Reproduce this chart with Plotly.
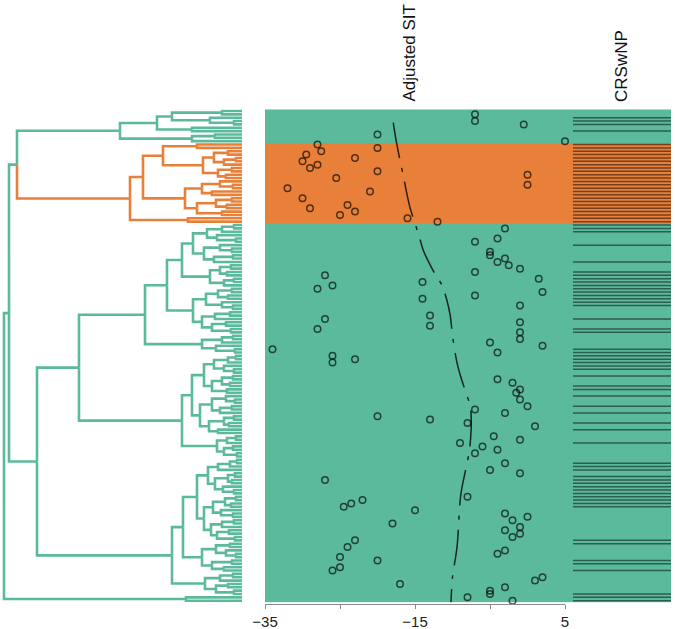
import plotly.graph_objects as go

W, H = 675, 629
GREEN = "#5BBA9C"
ORANGE = "#E8803A"

# ---------------- data ----------------
# Adjusted SIT per patient row (dendrogram order, top to bottom); None = no point
adjusted_sit = [
    None, -7, None, -7, -0.5, None, None, -20, None, 5,          # 0-9
    -28, -20, -27.5, -29.5, -23, -30, -28, -29, -20, 0,          # 10-19
    -25.5, None, 0, -32, -21, None, -30, None, -24, -29,         # 20-29
    -23, -25, -16, -12, None, -3, None, None, -4, -7,            # 30-39
    None, None, -5, -5, -3, -4, -2.5, -1, -7, -27,               # 40-49
    1.5, -14, -26, -28, 2, -7, -14, None, -1, None,              # 50-59
    None, -13, -27, -1, -13, -28, -1, None, -1, -5,              # 60-69
    2, -34, -4, -26, -23, -26, None, None, None, None,           # 70-79
    -4, -2, None, -1, -1.5, None, -1, None, 0, -7,               # 80-89
    -3, -20, -13, -8, 1, None, None, -4.5, -1, -9,               # 90-99
    -6, -4, -7, None, None, -3, None, -5, -1, None,              # 100-109
    -27, None, None, None, None, -8, -22, -23.5, -24.5, -15,     # 110-119
    -3, 0, -2, -18, -1, -3, -1, -2, -23, None,                   # 120-129
    -24, -3, -4, -25, -20, None, -25, -26, None, 2,              # 130-139
    1, -17, -3, -5, -5, -8, -2,                                  # 140-146
]

# CRSwNP status per row (1 = yes)
crswnp = [
    0, 0, 1, 1, 1, 0, 1, 0, 0, 0,
    1, 1, 1, 1, 1, 1, 1, 1, 1, 1,
    1, 1, 1, 1, 1, 1, 1, 1, 1, 1,
    1, 1, 1, 1, 1, 1, 1, 0, 0, 0,
    1, 0, 0, 0, 0, 1, 0, 0, 1, 1,
    1, 1, 1, 1, 1, 1, 1, 1, 1, 0,
    0, 0, 1, 0, 0, 1, 1, 0, 0, 0,
    0, 1, 1, 1, 1, 1, 1, 1, 0, 1,
    0, 0, 1, 1, 0, 1, 0, 0, 1, 0,
    1, 0, 0, 1, 0, 1, 0, 0, 0, 1,
    0, 0, 0, 0, 0, 1, 1, 1, 0, 1,
    1, 1, 1, 1, 1, 1, 1, 1, 1, 0,
    0, 0, 0, 0, 0, 0, 0, 0, 1, 1,
    0, 0, 0, 0, 1, 1, 0, 1, 0, 0,
    0, 0, 0, 0, 1, 1, 1,
]

# smoothed trend of Adjusted SIT along the row order
smooth_row = [3.5, 9, 20, 28.5, 33.5, 38.5, 41.5, 47.5, 52, 56, 61, 67, 75, 80,
              84, 88.5, 93.5, 98, 102, 107.5, 114.5, 130, 139, 146.5]
smooth_sit = [-17.9, -17.5, -16.5, -15.7, -15.0, -14.3, -13.9, -12.6, -11.4, -10.8,
              -10.3, -10.0, -9.4, -8.8, -8.2, -7.6, -7.5, -7.6, -7.8, -8.3,
              -8.9, -9.4, -10.0, -10.2]

# x tick labels
tick_vals = [-35, -25, -15, -5, 5]
tick_text = ["\u221235", "", "\u221215", "", "5"]

# dendrogram: [height, left, right, (optional colour tag)], leaf = 0
G1 = [122, [85, [70, [20, 0, 0], [32, 0, [8, 0, 0]]], [50, 0, 0]], [50, [27, 0, 0], 0]]
O_a = [79, [45, 0, 0], [39, [28, [14, 0, 0], [18, [6, 0, 0], 0]], [24, [10, 0, 0], [16, 0, 0]]]]
O_b = [57, [40, [22, 0, [9, 0, 0]], [30, 0, 0]], [45, [26, [10, 0, 0], [15, 0, 0]], [20, 0, 0]]]
O = [112, [99, O_a, O_b], [54, 0, 0], "orange"]
F1a1 = [49, [35, [20, [8, 0, 0], 0], [25, 0, [6, 0, 0]]], [38, [22, 0, [10, 0, 0]], [28, [9, 0, 0], 0]]]
F1a2 = [32, [22, [11, 0, 0], [15, 0, 0]], [18, [8, 0, 0], 0]]
F1b = [49, [36, [24, [10, 0, 0], [14, 0, 0]], [20, 0, [9, 0, 0]]], [40, [27, [12, 0, 0], 0], [30, [16, 0, 0], [11, 0, 0]]]]
F2 = [40, [20, [9, 0, 0], 0], [26, 0, [7, 0, 0]]]
H1a = [38, [28, [14, [6, 0, 0], 0], [18, 0, [8, 0, 0]]], [30, [20, [9, 0, 0], [12, 0, 0]], [15, 0, 0]]]
H1b = [42, [30, [16, 0, [7, 0, 0]], [22, [10, 0, 0], 0]], [33, [18, [8, 0, 0], [13, 0, 0]], [24, 0, 0]]]
H2 = [25, [15, [6, 0, 0], 0], [18, [9, 0, 0], [5, 0, 0]]]
E1a1 = [34, [24, [12, [5, 0, 0], 0], 0], [27, [14, [7, 0, 0], [10, 0, 0]], [19, 0, [8, 0, 0]]]]
E1a2 = [38, [29, [17, [6, 0, 0], [11, 0, 0]], [21, 0, [9, 0, 0]]], [31, [20, [8, 0, 0], 0], [25, [13, 0, 0], [7, 0, 0]]]]
E1b = [40, [26, [12, 0, 0], [16, 0, [6, 0, 0]]], [30, [10, 0, 0], [18, 0, 0]]]
E2 = [37, [22, [9, 0, 0], 0], [26, [14, 0, 0], [8, 0, 0]]]
D = [163, [97, [75, [60, F1a1, F1a2], F1b], F2], [60, [50, H1a, H1b], H2]]
E = [70, [59, [45, E1a1, E1a2], E1b], E2]
C = [205, D, E]
Z = [56, 0, 0]
ROOT = [238, [233, [225, G1, O], C], Z]

COLORS = {"green": GREEN, "orange": ORANGE}

# ---------------- dendrogram layout ----------------
segs = {}
leaf_tags = []


def walk(node, tag):
    if node == 0:
        leaf_tags.append(tag)
        return 0.0, float(len(leaf_tags) - 1)
    own = node[3] if len(node) > 3 else tag
    kids = []
    for child in node[1:3]:
        ctag = child[3] if (child != 0 and len(child) > 3) else own
        ch, cy = walk(child, own)
        kids.append((ch, cy, ctag))
    y = (kids[0][1] + kids[1][1]) / 2.0
    for ch, cy, ctag in kids:
        xs, ys = segs.setdefault(ctag, ([], []))
        xs += [node[0], node[0], ch, None]
        ys += [y, cy, cy, None]
    return node[0], y


walk(ROOT, "green")
N = len(leaf_tags)
rows = list(range(N))
cluster = [0 if t == "green" else 1 for t in leaf_tags]

# ---------------- figure ----------------
fig = go.Figure()

# background bands (subplot x/y, drawn first)
fig.add_trace(go.Heatmap(
    z=[[c] for c in cluster], x=[0, 1], y=rows, xaxis="x", yaxis="y",
    colorscale=[[0, GREEN], [0.5, GREEN], [0.5, ORANGE], [1, ORANGE]],
    zmin=0, zmax=1, showscale=False, hoverinfo="skip"))

# CRSwNP strip
lx, ly = [], []
for r, v in zip(rows, crswnp):
    if v:
        lx += [0.075, 1.0, None]
        ly += [r, r, None]
fig.add_trace(go.Scatter(x=lx, y=ly, mode="lines", xaxis="x2", yaxis="y",
                         line=dict(color="rgba(0,0,0,0.5)", width=1.5),
                         hoverinfo="skip"))

# trend line + points
fig.add_trace(go.Scatter(x=smooth_sit, y=smooth_row, mode="lines", xaxis="x3", yaxis="y",
                         line=dict(color="rgba(0,0,0,0.8)", width=1.5,
                                   dash="36px,10px,4px,10px", shape="spline")))

fig.add_trace(go.Scatter(x=adjusted_sit, y=rows, mode="markers", xaxis="x3", yaxis="y",
                         cliponaxis=False,
                         marker=dict(symbol="circle-open", size=6.5,
                                     color="rgba(0,0,0,0.65)",
                                     line=dict(width=1.5, color="rgba(0,0,0,0.65)"))))

for tag, (xs, ys) in segs.items():
    fig.add_trace(go.Scatter(x=xs, y=ys, mode="lines", xaxis="x4", yaxis="y",
                             line=dict(color=COLORS[tag], width=2.6),
                             hoverinfo="skip"))

FONT = "Liberation Sans, Arial, sans-serif"
fig.update_layout(
    width=W, height=H, margin=dict(l=0, r=0, t=0, b=0, pad=0),
    paper_bgcolor="white", plot_bgcolor="rgba(0,0,0,0)", showlegend=False,
    font=dict(family=FONT, color="#222"),
    xaxis=dict(domain=[265 / W, 671 / W], range=[0, 1], visible=False, anchor="y",
               automargin=False),
    xaxis2=dict(domain=[565 / W, 671 / W], range=[0, 1], visible=False, anchor="y",
                automargin=False),
    xaxis3=dict(domain=[265 / W, 565 / W], range=[-35, 5], anchor="free",
                position=1 - 603.5 / H, showline=True, linecolor="#8a8a8a", linewidth=1,
                ticks="outside", ticklen=4, tickcolor="#8a8a8a", tickwidth=1,
                tickvals=tick_vals, ticktext=tick_text, tickfont=dict(size=15, color="#222"),
                showgrid=False, zeroline=False, automargin=False),
    xaxis4=dict(domain=[0, 246 / W], range=[242, -4], visible=False, anchor="y",
                automargin=False),
    yaxis=dict(domain=[1 - 602.4 / H, 1 - 109.3 / H], range=[N - 0.5, -0.5],
               visible=False, anchor="x", automargin=False),
    annotations=[
        dict(text="Adjusted SIT", x=409 / W, y=1 - 104 / H, xref="paper", yref="paper",
             textangle=-90, xanchor="center", yanchor="bottom", showarrow=False,
             font=dict(size=17, family=FONT, color="#111")),
        dict(text="CRSwNP", x=621 / W, y=1 - 104 / H, xref="paper", yref="paper",
             textangle=-90, xanchor="center", yanchor="bottom", showarrow=False,
             font=dict(size=17, family=FONT, color="#111")),
    ],
)

fig.write_html("out.html", config={"displayModeBar": False},
               post_script="document.body.style.margin='0';document.body.style.padding='0';")
